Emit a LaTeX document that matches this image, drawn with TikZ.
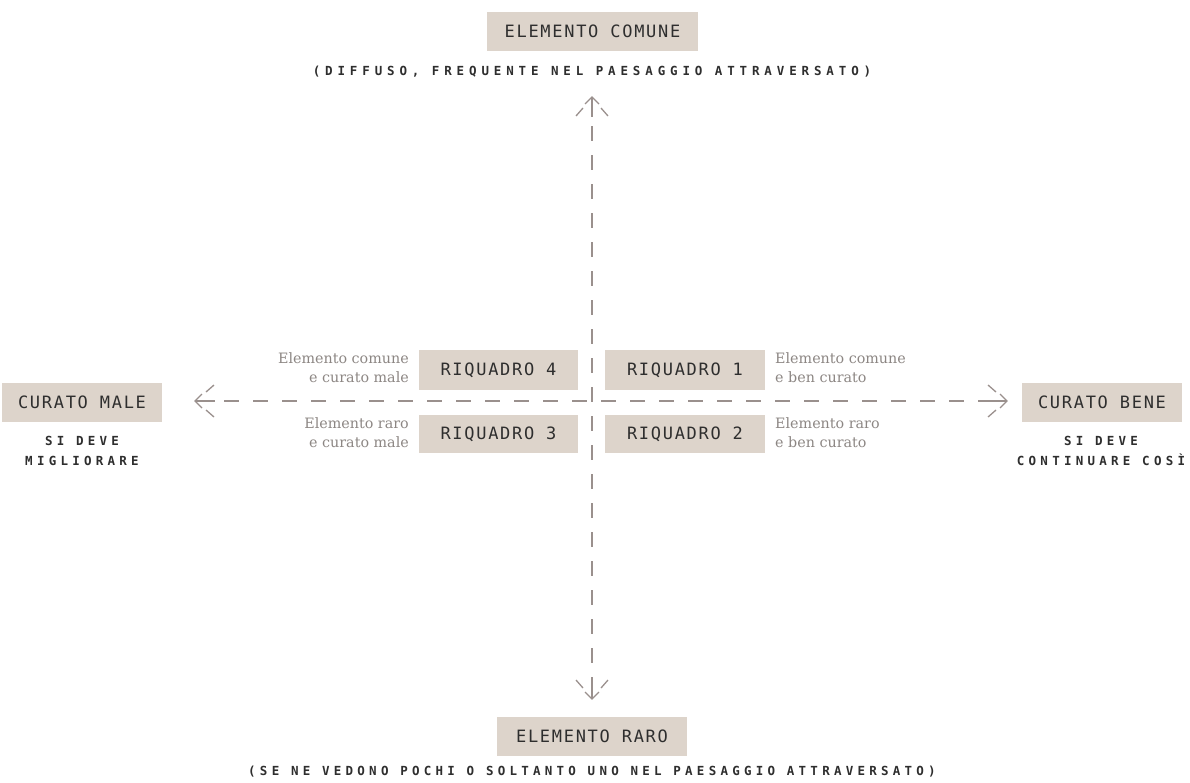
\documentclass[tikz,border=0pt]{standalone}
\usepackage{fontspec}
\setmainfont{DejaVu Serif}
\newfontfamily\boxfont[LetterSpace=10]{DejaVu Sans Mono}
\newfontfamily\capfont[LetterSpace=34]{DejaVu Sans Mono}
\newfontfamily\capfontwide[LetterSpace=39]{DejaVu Sans Mono}
\newfontfamily\notefont{DejaVu Serif}
\definecolor{boxfill}{HTML}{DDD4CB}
\definecolor{boxtext}{HTML}{2E2E2E}
\definecolor{axiscol}{HTML}{9A908D}
\definecolor{notecol}{HTML}{8C8683}
\begin{document}
\begin{tikzpicture}[x=1pt,y=-1pt,
  labelbox/.style={fill=boxfill,inner sep=0pt,minimum height=39pt,text=boxtext,font=\boxfont\fontsize{17}{20}\selectfont},
  captxt/.style={text=boxtext,inner sep=0pt,font=\capfont\bfseries\fontsize{12.5}{20}\selectfont,align=center},
  captxtwide/.style={captxt,font=\capfontwide\bfseries\fontsize{12.5}{20}\selectfont},
  notetxt/.style={text=notecol,inner sep=0pt,font=\notefont\fontsize{14.3}{19}\selectfont},
  axisline/.style={draw=axiscol,line width=1.3pt},
  axisdash/.style={draw=axiscol,line width=1.3pt,dash pattern=on 15pt off 14pt},
  tiphead/.pic={
    \draw[axisline] (-7,-7)--(0,0)--(-7,7);
    \draw[axisline] (0,0)--(-20,0);
    \draw[axisline] (-11,9)--(-19,16) (-11,-9)--(-19,-16);
  }]
\useasboundingbox (0,0) rectangle (1190,782);

% axes
\coordinate (top) at (592,97);
\coordinate (bot) at (592,699);
\coordinate (lft) at (195,401);
\coordinate (rgt) at (1007,401);
\draw[axisdash] (top) -- (bot);
\draw[axisdash] (lft) -- (rgt);
\pic[rotate=90] at (top) {tiphead};
\pic[rotate=-90] at (bot) {tiphead};
\pic[rotate=180] at (lft) {tiphead};
\pic at (rgt) {tiphead};

% top
\node[labelbox,minimum width=211pt] (comune) at (592.5,31) {ELEMENTO COMUNE};
\node[captxtwide] (comunecap) at (592,72) {(DIFFUSO, FREQUENTE NEL PAESAGGIO ATTRAVERSATO)};

% bottom
\node[labelbox,minimum width=190pt] (raro) at (592,736) {ELEMENTO RARO};
\node[captxt] (rarocap) at (592,772) {(SE NE VEDONO POCHI O SOLTANTO UNO NEL PAESAGGIO ATTRAVERSATO)};

% left / right
\node[labelbox,minimum width=160pt] (male) at (82,402.5) {CURATO MALE};
\node[captxt] (malecap) at (82,451) {SI DEVE\\MIGLIORARE};
\node[labelbox,minimum width=160pt] (bene) at (1102,402.5) {CURATO BENE};
\node[captxt] (benecap) at (1101,451) {SI DEVE\\CONTINUARE COSÌ};

% quadrants
\node[labelbox,minimum width=159pt,minimum height=40pt] (r4) at (498.5,370) {RIQUADRO 4};
\node[labelbox,minimum width=159pt,minimum height=38pt] (r3) at (498.5,434) {RIQUADRO 3};
\node[labelbox,minimum width=160pt,minimum height=40pt] (r1) at (685,370) {RIQUADRO 1};
\node[labelbox,minimum width=160pt,minimum height=38pt] (r2) at (685,434) {RIQUADRO 2};

\node[notetxt,align=right,anchor=east] (n4) at (409,368) {Elemento comune\\e curato male};
\node[notetxt,align=right,anchor=east] (n3) at (409,433) {Elemento raro\\e curato male};
\node[notetxt,align=left,anchor=west] (n1) at (775,368) {Elemento comune\\e ben curato};
\node[notetxt,align=left,anchor=west] (n2) at (775,433) {Elemento raro\\e ben curato};
\end{tikzpicture}
\end{document}
